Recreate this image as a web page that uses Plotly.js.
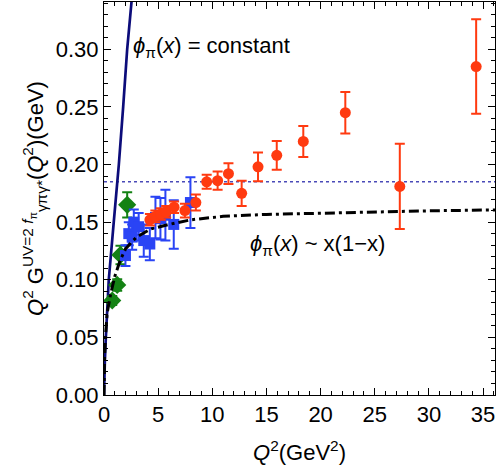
<!DOCTYPE html>
<html>
<head>
<meta charset="utf-8">
<script src="https://cdn.plot.ly/plotly-3.0.1.min.js"></script>
<style>
  html, body { margin: 0; padding: 0; background: #fff; }
  #chart { width: 498px; height: 472px; }
</style>
</head>
<body>
<div id="chart"></div>
<script>
// BaBar-like points (red circles)
const redQ2 = [4.24, 4.74, 5.24, 5.74, 6.47, 7.47, 8.48, 9.48, 10.49, 11.49, 12.71, 14.22, 15.95, 18.40, 22.28, 27.31, 34.36];
const redVal = [0.152, 0.155, 0.157, 0.159, 0.163, 0.160, 0.167, 0.185, 0.186, 0.192, 0.175, 0.198, 0.208, 0.220, 0.245, 0.181, 0.285];
const redErr = [0.005, 0.005, 0.005, 0.005, 0.005, 0.006, 0.007, 0.006, 0.008, 0.009, 0.011, 0.0125, 0.0125, 0.0135, 0.018, 0.037, 0.041];

// CLEO-like points (blue squares)
const blueQ2 = [1.98, 2.29, 2.6, 2.75, 3.2, 3.67, 4.23, 4.75, 5.21, 5.67, 6.44, 7.98];
const blueVal = [0.121, 0.140, 0.137, 0.150, 0.146, 0.134, 0.131, 0.154, 0.153, 0.156, 0.148, 0.167];
const blueErr = [0.009, 0.010, 0.011, 0.011, 0.012, 0.014, 0.014, 0.018, 0.018, 0.022, 0.021, 0.022];

// CELLO-like points (green diamonds)
const greenQ2 = [0.76, 1.22, 1.52, 2.14];
const greenVal = [0.082, 0.0955, 0.1215, 0.165];
const greenErr = [0.004, 0.005, 0.008, 0.011];

// curves
const flatQ2 = [0, 0.03, 0.08, 0.17, 0.44, 0.9, 1.37, 1.77, 2.14, 2.54];
const flatVal = [0, 0.015, 0.03, 0.05, 0.10, 0.15, 0.20, 0.25, 0.30, 0.341];

const asyQ2 = [0, 0.02, 0.05, 0.14, 0.29, 0.6, 1.0, 1.5, 2.0, 3.0, 4.3, 6.0, 8.0, 11, 15, 20, 25, 30, 36.1];
const asyVal = [0, 0.018, 0.033, 0.051, 0.071, 0.087, 0.103, 0.117, 0.127, 0.137, 0.144, 0.148, 0.152, 0.155, 0.1567, 0.1577, 0.159, 0.1598, 0.1606];

const limitQ2 = [0, 36.1];
const limitVal = [0.185, 0.185];

const font = "Liberation Sans, Arial, sans-serif";
const fs = 22;

const traces = [
  {
    x: limitQ2, y: limitVal, mode: "lines", showlegend: false,
    line: { color: "#4a4ab8", width: 1.5, dash: "3px,3px" }
  },
  {
    x: flatQ2, y: flatVal, mode: "lines", showlegend: false,
    line: { color: "#0c0c7a", width: 2.7 }
  },
  {
    x: greenQ2, y: greenVal, mode: "markers", showlegend: false,
    marker: { symbol: "diamond", size: 14, color: "#148214" },
    error_y: { type: "data", array: greenErr, color: "#148214", thickness: 2, width: 5 }
  },
  {
    x: blueQ2, y: blueVal, mode: "markers", showlegend: false,
    marker: { symbol: "square", size: 11, color: "#2a44f5" },
    error_y: { type: "data", array: blueErr, color: "#2a44f5", thickness: 2, width: 5 }
  },
  {
    x: redQ2, y: redVal, mode: "markers", showlegend: false,
    marker: { symbol: "circle", size: 11, color: "#ff3a10" },
    error_y: { type: "data", array: redErr, color: "#ff3a10", thickness: 2, width: 5 }
  },
  {
    x: asyQ2, y: asyVal, mode: "lines", showlegend: false,
    line: { color: "#000", width: 3, dash: "10px,4px,3px,4px" }
  }
];

const axisCommon = {
  showgrid: false, zeroline: false, showline: true, linecolor: "#000", linewidth: 1,
  mirror: "allticks", ticks: "inside", ticklen: 7, tickcolor: "#000",
  tickfont: { family: font, size: fs, color: "#000" }
};

const layout = {
  width: 498, height: 472,
  margin: { l: 104, r: 3, t: 2, b: 77 },
  paper_bgcolor: "#fff", plot_bgcolor: "#fff",
  xaxis: Object.assign({}, axisCommon, {
    range: [0, 36.1], dtick: 5, tick0: 0,
    minor: { dtick: 1, ticks: "inside", ticklen: 4, tickcolor: "#000" },
    title: { text: "<i>Q</i><sup>2</sup>(GeV<sup>2</sup>)", font: { family: font, size: fs, color: "#000" }, standoff: 18 }
  }),
  yaxis: Object.assign({}, axisCommon, {
    range: [0, 0.341], dtick: 0.05, tick0: 0, tickformat: ".2f",
    minor: { dtick: 0.01, ticks: "inside", ticklen: 4, tickcolor: "#000" },
    title: { text: "<i>Q</i><sup>2</sup> G<sup>UV=2 <i>f</i><sub>π</sub></sup><sub>γπγ*</sub>(<i>Q</i><sup>2</sup>)(GeV)", font: { family: font, size: fs, color: "#000" }, standoff: 6 }
  }),
  annotations: [
    {
      x: 2.5, y: 0.302, xanchor: "left", yanchor: "middle", showarrow: false,
      text: "<i>ϕ</i><sub>π</sub>(<i>x</i>) = constant",
      font: { family: font, size: fs, color: "#000" }
    },
    {
      x: 13.3, y: 0.130, xanchor: "left", yanchor: "middle", showarrow: false,
      text: "<i>ϕ</i><sub>π</sub>(<i>x</i>) ~ x(1−x)",
      font: { family: font, size: fs, color: "#000" }
    }
  ]
};

Plotly.newPlot("chart", traces, layout, { displayModeBar: false, staticPlot: true });
</script>
</body>
</html>
